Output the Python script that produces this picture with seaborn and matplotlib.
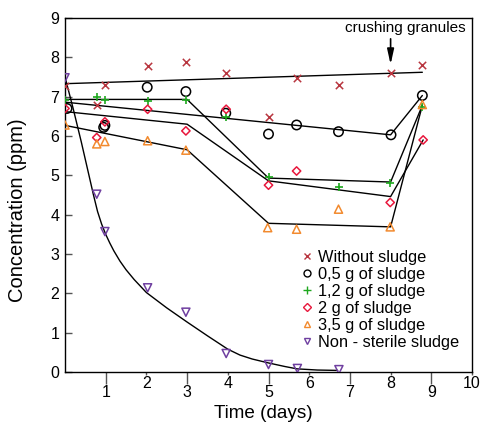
import numpy as np
import pandas as pd
import matplotlib
matplotlib.use("Agg")
import matplotlib.pyplot as plt
import seaborn as sns
from matplotlib.lines import Line2D

sns.set_style("ticks")
plt.rcParams["font.family"] = ["Liberation Sans", "DejaVu Sans"]
plt.rcParams["text.color"] = "black"
plt.rcParams["xtick.labelcolor"] = "black"
plt.rcParams["ytick.labelcolor"] = "black"

# ---------------- data ----------------
wo_x = [0, 0.78, 0.98, 2.03, 2.97, 3.96, 5.0, 5.69, 6.73, 8.01, 8.78]
wo_y = [7.27, 6.79, 7.30, 7.79, 7.89, 7.59, 6.49, 7.48, 7.29, 7.61, 7.80]
wo_fit_x = [0, 8.78]
wo_fit_y = [7.33, 7.62]

g05_x = [0.05, 0.95, 0.98, 2.02, 2.97, 3.95, 5.0, 5.69, 6.72, 8.01, 8.78]
g05_y = [6.70, 6.22, 6.27, 7.24, 7.13, 6.58, 6.05, 6.28, 6.11, 6.03, 7.03]
g05_fit_x = [0, 8.0, 8.78]
g05_fit_y = [6.86, 6.03, 7.03]

g12_x = [0, 0.78, 0.98, 2.03, 2.97, 3.96, 5.0, 6.72, 7.99, 8.78]
g12_y = [6.92, 7.00, 6.92, 6.89, 6.92, 6.49, 4.97, 4.70, 4.80, 6.75]
g12_fit_x = [0, 3.0, 5.0, 8.0, 8.78]
g12_fit_y = [6.93, 6.93, 4.93, 4.83, 6.78]

g2_x = [0, 0.78, 0.98, 2.03, 2.97, 3.96, 5.0, 5.69, 7.99, 8.8]
g2_y = [6.70, 5.96, 6.36, 6.68, 6.13, 6.68, 4.75, 5.11, 4.31, 5.90]
g2_fit_x = [0, 3.0, 5.0, 8.0, 8.8]
g2_fit_y = [6.62, 6.30, 4.86, 4.46, 5.90]

g35_x = [0, 0.78, 0.98, 2.03, 2.97, 4.98, 5.69, 6.72, 7.99, 8.78]
g35_y = [6.28, 5.80, 5.86, 5.88, 5.64, 3.67, 3.63, 4.14, 3.69, 6.80]
g35_fit_x = [0, 3.0, 5.0, 8.0, 8.78]
g35_fit_y = [6.27, 5.65, 3.78, 3.69, 6.78]

ns_x = [0, 0.78, 0.98, 2.03, 2.97, 3.96, 5.0, 5.71, 6.73]
ns_y = [7.48, 4.52, 3.57, 2.14, 1.52, 0.47, 0.19, 0.09, 0.06]
ns_fit_x = [0, 0.2, 0.4, 0.6, 0.7, 0.8, 0.9, 1.0, 1.1, 1.2, 1.35, 1.5, 1.7, 2.0,
            2.5, 3.0, 3.5, 4.0, 4.3, 4.6, 5.0, 5.4, 5.7, 6.2, 6.7]
ns_fit_y = [7.5, 6.7, 5.85, 4.95, 4.5, 4.08, 3.76, 3.5, 3.28, 3.08, 2.82, 2.6, 2.35, 2.02,
            1.63, 1.27, 0.92, 0.58, 0.43, 0.33, 0.23, 0.14, 0.08, 0.05, 0.04]

labels = ["Without sludge", "0,5 g of sludge", "1,2 g of sludge",
          "2 g of sludge", "3,5 g of sludge", "Non - sterile sludge"]
xticks_even = [2, 4, 6, 8, 10]
xticks_odd = [1, 3, 5, 7, 9]
yticks = list(range(10))

# ---------------- styles ----------------
c_wo = "#b8363f"
c_05 = "#000000"
c_12 = "#1ea81e"
c_2 = "#e8173c"
c_35 = "#f28a2e"
c_ns = "#6f3fa0"

fig = plt.figure(figsize=(4.82, 4.24), dpi=100)
ax = fig.add_axes([65 / 482, 1 - 372 / 424, 407 / 482, 354 / 424])

# fitted lines
for fx, fy in [(wo_fit_x, wo_fit_y), (g05_fit_x, g05_fit_y), (g12_fit_x, g12_fit_y),
               (g2_fit_x, g2_fit_y), (g35_fit_x, g35_fit_y), (ns_fit_x, ns_fit_y)]:
    sns.lineplot(x=fx, y=fy, sort=False, estimator=None, color="black", lw=1.0, ax=ax)

# markers
sns.scatterplot(x=wo_x, y=wo_y, marker="x", s=28, color=c_wo, linewidth=1.1, ax=ax, zorder=3)
sns.scatterplot(x=g05_x, y=g05_y, marker="o", s=46, facecolor="none", edgecolor=c_05,
                linewidth=1.1, ax=ax, zorder=3)
sns.scatterplot(x=g12_x, y=g12_y, marker="+", s=40, color=c_12, linewidth=1.2, ax=ax, zorder=3)
sns.scatterplot(x=g2_x, y=g2_y, marker="D", s=18, facecolor="none", edgecolor=c_2,
                linewidth=1.1, ax=ax, zorder=3)
sns.scatterplot(x=g35_x, y=g35_y, marker="^", s=34, facecolor="none", edgecolor=c_35,
                linewidth=1.1, ax=ax, zorder=3)
sns.scatterplot(x=ns_x, y=ns_y, marker="v", s=34, facecolor="none", edgecolor=c_ns,
                linewidth=1.1, ax=ax, zorder=3)

ax.set_xlim(0, 10)
ax.set_ylim(0, 9)
ax.set_xlabel("")
ax.set_ylabel("")

# ticks
ax.set_xticks(xticks_even)
ax.set_xticklabels([str(t) for t in xticks_even])
ax.set_xticks(xticks_odd, minor=True)
ax.set_xticklabels([str(t) for t in xticks_odd], minor=True)
ax.set_yticks(yticks)
ax.set_yticklabels([str(t) for t in yticks])
ax.tick_params(axis="x", which="major", direction="out", length=2.5, width=1.0,
               pad=0.5, labelsize=11.5, color="#555555", labelcolor="black")
ax.tick_params(axis="x", which="minor", direction="out", length=8.5, width=1.0,
               pad=1.0, labelsize=11.5, color="#555555", labelcolor="black")
ax.tick_params(axis="y", which="major", direction="in", length=5, width=1.0,
               pad=4, labelsize=11.5, color="#555555", labelcolor="black")
for sp in ax.spines.values():
    sp.set_visible(True)
    sp.set_linewidth(1.0)
    sp.set_color("black")

# annotation
ax.text(8.36, 8.74, "crushing granules", ha="center", va="center", fontsize=11, color="black")
ax.annotate("", xy=(8.0, 7.82), xytext=(8.0, 8.47),
            arrowprops=dict(arrowstyle="-|>,head_width=0.2,head_length=0.9",
                            color="black", lw=1.2, shrinkA=0, shrinkB=0))

# legend
handles = [
    Line2D([], [], ls="none", marker="x", ms=5, mew=1.0, color=c_wo),
    Line2D([], [], ls="none", marker="o", ms=5, mew=1.0, mfc="none", mec=c_05),
    Line2D([], [], ls="none", marker="+", ms=6, mew=1.0, color=c_12),
    Line2D([], [], ls="none", marker="D", ms=3.8, mew=1.0, mfc="none", mec=c_2),
    Line2D([], [], ls="none", marker="^", ms=5, mew=1.0, mfc="none", mec=c_35),
    Line2D([], [], ls="none", marker="v", ms=5, mew=1.0, mfc="none", mec=c_ns),
]
leg = ax.legend(handles, labels, loc="upper left", bbox_to_anchor=(0.583, 0.346),
                frameon=False, fontsize=11.8, handlelength=0.6, handletextpad=0.35,
                labelspacing=0.13, borderpad=0, borderaxespad=0)
for t in leg.get_texts():
    t.set_color("black")

# axis labels
fig.text(263.5 / 482, 1 - 413 / 424, "Time (days)", ha="center", va="center",
         fontsize=13.6, color="black")
fig.text(18 / 482, 1 - 210.5 / 424, "Concentration (ppm)", ha="center", va="center",
         rotation=90, fontsize=14.5, color="black")

fig.savefig("out.png", dpi=100)
